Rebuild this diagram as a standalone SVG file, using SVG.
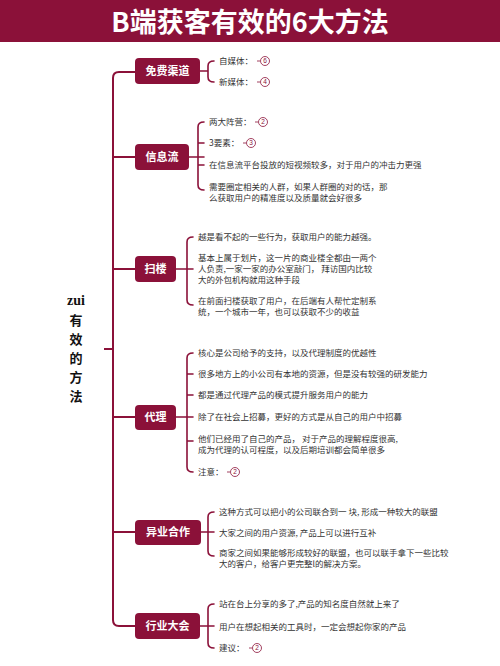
<svg xmlns="http://www.w3.org/2000/svg" width="500" height="666" viewBox="0 0 500 666">
<style>
.node rect{fill:#8B1139}
.node text{fill:#fff;font-family:"Noto Sans CJK SC",sans-serif;font-weight:bold;font-size:11px;text-anchor:middle}
.t{fill:#333;font-family:"Noto Sans CJK SC",sans-serif;font-size:8.5px}
.c{fill:none;stroke:#8B1139;stroke-width:1.6;stroke-linecap:round}
.trunk{fill:none;stroke:#8B1139;stroke-width:2}
.num circle{fill:#fff;stroke:#8B1139;stroke-width:0.8}
.num text{fill:#8B1139;font-family:"Liberation Sans",sans-serif;font-size:6.5px;text-anchor:middle}
.num line{stroke:#8B1139;stroke-width:0.8}
.root{fill:#111;font-weight:bold;font-size:13px;text-anchor:middle;font-family:"Noto Sans CJK SC",sans-serif}
</style>
<rect width="500" height="666" fill="#fff"/>
<g id="title">
<rect x="0" y="0" width="500" height="42" fill="#8B1139"/>
<text x="250" y="32" fill="#fff" font-family="'Noto Sans CJK SC',sans-serif" font-weight="bold" font-size="27" text-anchor="middle">B端获客有效的6大方法</text>
</g>
<g id="root">
<text class="root" x="76" y="305" style="font-family:'Liberation Serif',serif;font-size:14px">zui</text>
<text class="root" x="76" y="325">有</text>
<text class="root" x="76" y="344">效</text>
<text class="root" x="76" y="363">的</text>
<text class="root" x="76" y="382">方</text>
<text class="root" x="76" y="401">法</text>
</g>
<g id="connectors">
<path class="trunk" d="M135,72 L119,72 Q113,72 113,78 L113,620 Q113,626 119,626 L135,626 M113,157 L135,157 M113,269 L135,269 M113,417 L135,417 M113,532 L135,532 M104,349 L113,349"/>
<path class="c" d="M200,71 L208,71 M214,61 Q208,61 208,66 L208,77 Q208,82 214,82"/>
<path class="c" d="M189,157 L204,157 M204,122 Q198,122 198,127 L198,185 Q198,190 204,190 M198,143 L204,143 M198,165 L204,165"/>
<path class="c" d="M176,269 L193,269 M193,237 Q187,237 187,242 L187,300 Q187,305 193,305"/>
<path class="c" d="M176,417 L193,417 M193,353 Q187,353 187,358 L187,467 Q187,472 193,472 M187,374 L193,374 M187,395 L193,395 M187,441 L193,441"/>
<path class="c" d="M200,532 L214,532 M214,512 Q208,512 208,517 L208,551 Q208,556 214,556"/>
<path class="c" d="M200,626 L214,626 M214,604 Q208,604 208,609 L208,643 Q208,648 214,648"/>
</g>
<g id="n1" class="node"><rect x="135" y="58" width="65" height="26" rx="4"/><text x="167.5" y="75">免费渠道</text></g>
<g id="n2" class="node"><rect x="135" y="144" width="54" height="26" rx="4"/><text x="162" y="161">信息流</text></g>
<g id="n3" class="node"><rect x="135" y="256" width="41" height="26" rx="4"/><text x="155.5" y="273">扫楼</text></g>
<g id="n4" class="node"><rect x="135" y="405" width="41" height="25" rx="4"/><text x="155.5" y="421">代理</text></g>
<g id="n5" class="node"><rect x="135" y="520" width="66" height="25" rx="4"/><text x="168" y="536">异业合作</text></g>
<g id="n6" class="node"><rect x="135" y="613" width="65" height="26" rx="4"/><text x="167.5" y="630">行业大会</text></g>
<g id="leaves1">
<text class="t" x="219" y="64">自媒体：</text>
<text class="t" x="219" y="85">新媒体：</text>
</g>
<g id="leaves2">
<text class="t" x="209" y="125">两大阵营：</text>
<text class="t" x="209" y="146">3要素：</text>
<text class="t" x="209" y="168">在信息流平台投放的短视频较多，对于用户的冲击力更强</text>
<text class="t" x="209" y="190">需要圈定相关的人群，如果人群圈的对的话，那</text>
<text class="t" x="209" y="201">么获取用户的精准度以及质量就会好很多</text>
</g>
<g id="leaves3">
<text class="t" x="198" y="240">越是看不起的一些行为，获取用户的能力越强。</text>
<text class="t" x="198" y="261">基本上属于划片，这一片的商业楼全都由一两个</text>
<text class="t" x="198" y="272">人负责,一家一家的办公室敲门， 拜访国内比较</text>
<text class="t" x="198" y="283">大的外包机构就用这种手段</text>
<text class="t" x="198" y="304">在前面扫楼获取了用户，在后端有人帮忙定制系</text>
<text class="t" x="198" y="315">统，一个城市一年，也可以获取不少的收益</text>
</g>
<g id="leaves4">
<text class="t" x="198" y="356">核心是公司给予的支持，以及代理制度的优越性</text>
<text class="t" x="198" y="377">很多地方上的小公司有本地的资源，但是没有较强的研发能力</text>
<text class="t" x="198" y="398">都是通过代理产品的模式提升服务用户的能力</text>
<text class="t" x="198" y="420">除了在社会上招募，更好的方式是从自己的用户中招募</text>
<text class="t" x="198" y="442">他们已经用了自己的产品， 对于产品的理解程度很高,</text>
<text class="t" x="198" y="453">成为代理的认可程度，以及后期培训都会简单很多</text>
<text class="t" x="198" y="475">注意：</text>
</g>
<g id="leaves5">
<text class="t" x="219" y="515">这种方式可以把小的公司联合到一 块, 形成一种较大的联盟</text>
<text class="t" x="219" y="536">大家之间的用户资源, 产品上可以进行互补</text>
<text class="t" x="219" y="556">商家之间如果能够形成较好的联盟，也可以联手拿下一些比较</text>
<text class="t" x="219" y="567">大的客户，给客户更完整l的解决方案。</text>
</g>
<g id="leaves6">
<text class="t" x="219" y="607">站在台上分享的多了,产品的知名度自然就上来了</text>
<text class="t" x="219" y="630">用户在想起相关的工具时，一定会想起你家的产品</text>
<text class="t" x="219" y="651">建议：</text>
</g>
<g id="badges">
<g class="num"><line x1="257" y1="61" x2="260" y2="61"/><circle cx="265" cy="61" r="4.5"/><text x="265" y="63.3">6</text></g>
<g class="num"><line x1="257" y1="82" x2="260" y2="82"/><circle cx="265" cy="82" r="4.5"/><text x="265" y="84.3">4</text></g>
<g class="num"><line x1="255" y1="122" x2="258" y2="122"/><circle cx="263" cy="122" r="4.5"/><text x="263" y="124.3">2</text></g>
<g class="num"><line x1="243" y1="143" x2="246" y2="143"/><circle cx="251" cy="143" r="4.5"/><text x="251" y="145.3">3</text></g>
<g class="num"><line x1="227" y1="472" x2="230" y2="472"/><circle cx="235" cy="472" r="4.5"/><text x="235" y="474.3">2</text></g>
<g class="num"><line x1="249" y1="648" x2="252" y2="648"/><circle cx="257" cy="648" r="4.5"/><text x="257" y="650.3">2</text></g>
</g>
</svg>
